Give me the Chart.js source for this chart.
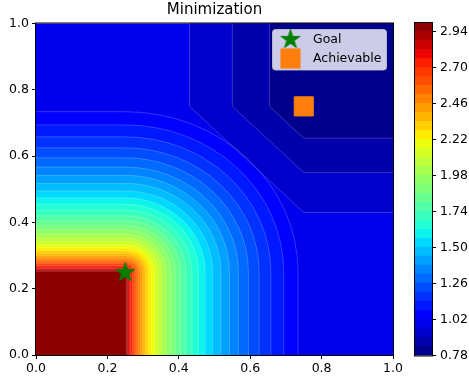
<!DOCTYPE html>
<html>
<head>
<meta charset="utf-8">
<script src="https://cdn.jsdelivr.net/npm/chart.js@4.4.1/dist/chart.umd.min.js"></script>
<style>
  html, body { margin: 0; padding: 0; background: #fff; }
  #wrap { position: relative; width: 469px; height: 383px; }
  #wrap canvas { position: absolute; left: 0; top: 0; }
</style>
</head>
<body>
<div id="wrap">
  <canvas id="fieldChart" width="469" height="383"></canvas>
  <canvas id="barChart" width="469" height="383"></canvas>
</div>
<script>
// contour levels of the score field
const levels = [0.78, 0.84, 0.90, 0.96, 1.02, 1.08, 1.14, 1.20, 1.26, 1.32, 1.38, 1.44, 1.50,
                1.56, 1.62, 1.68, 1.74, 1.80, 1.86, 1.92, 1.98, 2.04, 2.10, 2.16, 2.22, 2.28,
                2.34, 2.40, 2.46, 2.52, 2.58, 2.64, 2.70, 2.76, 2.82, 2.88, 2.94, 3.00];
// distance from the goal corner where levels 1.02 ... 2.94 are crossed
const goalRadii = [0.484, 0.444, 0.408, 0.375, 0.345, 0.317, 0.292, 0.268, 0.245, 0.224,
                   0.205, 0.187, 0.170, 0.155, 0.140, 0.127, 0.114, 0.103, 0.092, 0.082,
                   0.073, 0.064, 0.056, 0.049, 0.042, 0.036, 0.030, 0.025, 0.020, 0.015,
                   0.011, 0.007, 0.003];
// L1 distance from the achievable corner where levels 0.84, 0.90, 0.96 are crossed
const achRadii = [0.096, 0.200, 0.320];
const goalPoint = [0.25, 0.25];
const achievablePoint = [0.75, 0.75];
const xTicks = [0.0, 0.2, 0.4, 0.6, 0.8, 1.0];
const yTicks = [0.0, 0.2, 0.4, 0.6, 0.8, 1.0];
const cbTicks = [0.78, 1.02, 1.26, 1.50, 1.74, 1.98, 2.22, 2.46, 2.70, 2.94];

const FONT = 'DejaVu Sans';

// matplotlib's jet
const JET = {
  r: [[0, 0], [0.35, 0], [0.66, 1], [0.89, 1], [1, 0.5]],
  g: [[0, 0], [0.125, 0], [0.375, 1], [0.64, 1], [0.91, 0], [1, 0]],
  b: [[0, 0.5], [0.11, 1], [0.34, 1], [0.65, 0], [1, 0]]
};
function seg(pts, t) {
  for (let i = 1; i < pts.length; i++) {
    if (t <= pts[i][0]) {
      const [t0, v0] = pts[i - 1], [t1, v1] = pts[i];
      return v0 + (v1 - v0) * (t - t0) / (t1 - t0);
    }
  }
  return pts[pts.length - 1][1];
}
function jet(t) {
  t = Math.min(255, Math.floor(Math.max(0, t) * 256)) / 255;
  const c = k => Math.round(seg(JET[k], t) * 255);
  return `rgb(${c('r')},${c('g')},${c('b')})`;
}
const lo = levels[0], hi = levels[levels.length - 1];
const bandColor = k => jet(((levels[k] + levels[k + 1]) / 2 - lo) / (hi - lo));

// filled star marker
const starImg = (() => {
  const c = document.createElement('canvas');
  c.width = c.height = 24;
  const g = c.getContext('2d');
  g.beginPath();
  for (let i = 0; i < 10; i++) {
    const r = i % 2 ? 10 * 0.382 : 10;
    const a = -Math.PI / 2 + i * Math.PI / 5;
    g.lineTo(12 + r * Math.cos(a), 12.5 + r * Math.sin(a));
  }
  g.closePath();
  g.fillStyle = '#008000';
  g.fill();
  g.strokeStyle = '#008000';
  g.lineWidth = 1;
  g.stroke();
  return c;
})();

function frame(chart) {
  const { ctx, chartArea: a } = chart;
  ctx.save();
  ctx.strokeStyle = '#000';
  ctx.lineWidth = 1;
  ctx.strokeRect(a.left - 0.5, a.top - 0.5, a.right - a.left + 1, a.bottom - a.top + 1);
  ctx.restore();
}

const field = {
  id: 'field',
  beforeDatasetsDraw(chart) {
    const { ctx, chartArea: a, scales: { x, y } } = chart;
    const L = a.left - 2, R = a.right + 2, T = a.top - 2, B = a.bottom + 2;
    ctx.save();
    ctx.beginPath();
    ctx.rect(a.left, a.top, a.right - a.left, a.bottom - a.top);
    ctx.clip();
    ctx.fillStyle = bandColor(3);
    ctx.fillRect(L, T, R - L, B - T);
    const seams = [];

    // goal side: rounded corner regions, outer first
    const gx = x.getPixelForValue(goalPoint[0]), gy = y.getPixelForValue(goalPoint[1]);
    goalRadii.forEach((r, i) => {
      const k = i + 4;
      const rx = x.getPixelForValue(goalPoint[0] + r) - gx;
      const ry = gy - y.getPixelForValue(goalPoint[1] + r);
      const edge = new Path2D();
      edge.moveTo(gx + rx, B);
      edge.lineTo(gx + rx, gy);
      edge.ellipse(gx, gy, Math.max(rx, 0.01), Math.max(ry, 0.01), 0, 0, -Math.PI / 2, true);
      edge.lineTo(L, gy - ry);
      const shape = new Path2D(edge);
      shape.lineTo(L, B);
      shape.closePath();
      ctx.fillStyle = bandColor(k);
      ctx.fill(shape);
      seams.push(edge);
    });

    // achievable side: L1 corner regions, outer first
    for (let i = achRadii.length - 1; i >= 0; i--) {
      const s = achRadii[i];
      const xs = x.getPixelForValue(achievablePoint[0] - s);
      const ys = y.getPixelForValue(achievablePoint[1] - s);
      const ax = x.getPixelForValue(achievablePoint[0]);
      const ay = y.getPixelForValue(achievablePoint[1]);
      const edge = new Path2D();
      edge.moveTo(xs, T);
      edge.lineTo(xs, ay);
      edge.lineTo(ax, ys);
      edge.lineTo(R, ys);
      const shape = new Path2D(edge);
      shape.lineTo(R, T);
      shape.closePath();
      ctx.fillStyle = bandColor(i);
      ctx.fill(shape);
      seams.push(edge);
    }

    ctx.strokeStyle = 'rgba(255,255,255,0.35)';
    ctx.lineWidth = 0.6;
    seams.forEach(p => ctx.stroke(p));
    ctx.restore();
  },
  afterDatasetsDraw: frame,
  afterDraw(chart) {
    const { ctx, chartArea: a } = chart;
    const w = 114, h = 40.5;
    const x0 = a.right - 6.5 - w, y0 = a.top + 6;
    ctx.save();
    ctx.beginPath();
    ctx.roundRect(x0, y0, w, h, 3);
    ctx.fillStyle = 'rgba(255,255,255,0.8)';
    ctx.fill();
    ctx.strokeStyle = 'rgba(204,204,204,0.8)';
    ctx.lineWidth = 1;
    ctx.stroke();
    ctx.font = `12.5px "${FONT}"`;
    ctx.textBaseline = 'middle';
    chart.data.datasets.forEach((ds, i) => {
      const cy = y0 + 10 + i * 19;
      const cx = x0 + 18;
      if (ds.pointStyle === 'rect') {
        const half = ds.pointRadius * Math.SQRT1_2;
        ctx.fillStyle = ds.backgroundColor;
        ctx.fillRect(cx - half, cy - half, 2 * half, 2 * half);
        ctx.strokeStyle = ds.borderColor;
        ctx.strokeRect(cx - half, cy - half, 2 * half, 2 * half);
      } else {
        ctx.drawImage(ds.pointStyle, cx - 12, cy - 12.5);
      }
      ctx.fillStyle = '#000';
      ctx.fillText(ds.label, x0 + 40.5, cy + 0.5);
    });
    ctx.restore();
  }
};

const tickFont = { family: FONT, size: 12.5 };
const axisGrid = { display: true, drawOnChartArea: false, drawTicks: true, tickLength: 4, color: '#000', lineWidth: 1 };

new Chart(document.getElementById('fieldChart'), {
  type: 'scatter',
  data: {
    datasets: [
      {
        label: 'Goal',
        data: [{ x: goalPoint[0], y: goalPoint[1] }],
        pointStyle: starImg,
        pointRadius: 10,
        backgroundColor: '#008000',
        borderColor: '#008000'
      },
      {
        label: 'Achievable',
        data: [{ x: achievablePoint[0], y: achievablePoint[1] }],
        pointStyle: 'rect',
        pointRadius: 13.5,
        borderWidth: 1,
        backgroundColor: '#ff7f0e',
        borderColor: '#ff7f0e'
      }
    ]
  },
  options: {
    responsive: false,
    animation: false,
    devicePixelRatio: 1,
    layout: { padding: { left: 0, right: 76, top: 0, bottom: 0 } },
    plugins: {
      legend: { display: false },
      tooltip: { enabled: false },
      title: {
        display: true,
        text: 'Minimization',
        fullSize: false,
        color: '#000',
        font: { family: FONT, size: 15, weight: 'normal', lineHeight: 1.2 },
        padding: { top: 1.5, bottom: 4 }
      }
    },
    scales: {
      x: {
        type: 'linear', min: 0, max: 1,
        grid: axisGrid,
        border: { display: false },
        afterBuildTicks: s => { s.ticks = xTicks.map(v => ({ value: v })); },
        afterFit: s => { s.height = 28; },
        ticks: { font: tickFont, color: '#000', padding: 2, maxRotation: 0, callback: v => v.toFixed(1) }
      },
      y: {
        type: 'linear', min: 0, max: 1,
        grid: axisGrid,
        border: { display: false },
        afterBuildTicks: s => { s.ticks = yTicks.map(v => ({ value: v })); },
        afterFit: s => { s.width = 36; },
        ticks: { font: tickFont, color: '#000', padding: 3, callback: v => v.toFixed(1) }
      }
    }
  },
  plugins: [field]
});

// colour bar: one floating bar per band, slightly inflated so no seams show
const bands = levels.slice(0, -1).map((v, k) => ({
  data: [[v, levels[k + 1]]],
  backgroundColor: bandColor(k),
  borderWidth: 0,
  inflateAmount: 0.8,
  barPercentage: 1,
  categoryPercentage: 1,
  grouped: false
}));

new Chart(document.getElementById('barChart'), {
  type: 'bar',
  data: { labels: ['z'], datasets: bands },
  options: {
    responsive: false,
    animation: false,
    devicePixelRatio: 1,
    layout: { padding: { left: 415, right: 0, top: 23, bottom: 27.5 } },
    plugins: { legend: { display: false }, tooltip: { enabled: false } },
    scales: {
      x: { display: false },
      y: {
        position: 'right',
        min: lo, max: hi,
        grid: axisGrid,
        border: { display: false },
        afterBuildTicks: s => { s.ticks = cbTicks.map(v => ({ value: v })); },
        afterFit: s => { s.width = 37; },
        ticks: { font: tickFont, color: '#000', padding: 4, callback: v => v.toFixed(2) }
      }
    }
  },
  plugins: [{ id: 'outline', afterDatasetsDraw: frame }]
});
</script>
</body>
</html>
